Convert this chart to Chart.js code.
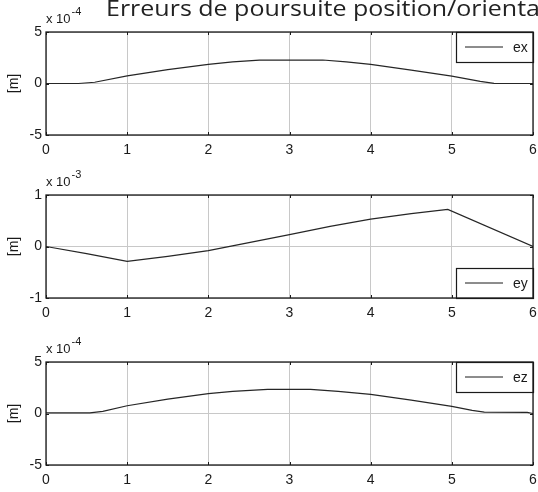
<!DOCTYPE html>
<html>
<head>
<meta charset="utf-8">
<script src="https://cdn.jsdelivr.net/npm/chart.js@4"></script>
<style>
html, body { margin: 0; padding: 0; background: #fff; }
#fig { position: relative; width: 538px; height: 492px; overflow: hidden; }
.pane { position: absolute; left: 0; width: 538px; height: 162px; }
</style>
</head>
<body>
<div id="fig">
	<div class="pane" style="top:0"><canvas id="cx" width="538" height="162"></canvas></div>
	<div class="pane" style="top:163px"><canvas id="cy" width="538" height="162"></canvas></div>
	<div class="pane" style="top:330px"><canvas id="cz" width="538" height="162"></canvas></div>
</div>
<script>
const TITLE = 'Erreurs de poursuite position/orientation';
const X_TICKS = [0, 1, 2, 3, 4, 5, 6];

// ex, units of 1e-4 m
const tEx = [0, 0.4, 0.6, 1.0, 1.5, 2.0, 2.3, 2.63, 3.41, 3.7, 4.0, 4.5, 5.0, 5.35, 5.52, 6.0];
const ex  = [0, 0, 0.12, 0.74, 1.35, 1.85, 2.1, 2.27, 2.28, 2.1, 1.85, 1.3, 0.72, 0.2, 0.02, 0];

// ey, units of 1e-3 m
const tEy = [0, 0.5, 1.0, 1.5, 2.0, 2.5, 3.0, 3.5, 4.0, 4.5, 4.95, 6.0];
const ey  = [0, -0.14, -0.29, -0.19, -0.08, 0.075, 0.23, 0.39, 0.53, 0.64, 0.72, 0];

// ez, units of 1e-4 m
const tEz = [0, 0.54, 0.7, 1.0, 1.5, 2.0, 2.3, 2.73, 3.26, 3.6, 4.0, 4.5, 5.0, 5.25, 5.4, 5.93, 6.0];
const ez  = [0.07, 0.07, 0.2, 0.75, 1.4, 1.93, 2.15, 2.35, 2.35, 2.15, 1.86, 1.3, 0.69, 0.3, 0.13, 0.1, 0];

const FONT = "'Liberation Sans Narrow', 'Liberation Sans', Arial, sans-serif";
const INK = '#1a1a1a';

// MATLAB-like axes decoration: box, inner ticks, exponent, legend, figure title
const axesDeco = {
	id: 'axesDeco',
	afterDraw(chart, args, o) {
		const ctx = chart.ctx;
		const a = chart.chartArea;
		const xs = chart.scales.x, ys = chart.scales.y;
		ctx.save();

		ctx.strokeStyle = INK;
		ctx.lineWidth = 1;
		for(const v of X_TICKS)
		{
			const px = Math.round(xs.getPixelForValue(v)) + 0.5;
			ctx.beginPath();
			ctx.moveTo(px, a.top); ctx.lineTo(px, a.top + 3);
			ctx.moveTo(px, a.bottom); ctx.lineTo(px, a.bottom - 3);
			ctx.stroke();
		}
		for(const v of [-o.lim, 0, o.lim])
		{
			const py = Math.round(ys.getPixelForValue(v)) + 0.5;
			ctx.beginPath();
			ctx.moveTo(a.left, py); ctx.lineTo(a.left + 3, py);
			ctx.moveTo(a.right, py); ctx.lineTo(a.right - 3, py);
			ctx.stroke();
		}

		// legend
		const lw = 77, lh = 30;
		const lx = a.right - lw;
		const ly = o.legendBottom ? a.bottom - lh : a.top;
		ctx.fillStyle = '#fff';
		ctx.fillRect(lx, ly, lw, lh);
		ctx.lineWidth = 1.2;
		ctx.strokeRect(Math.round(lx) + 0.5, Math.round(ly) + 0.5, lw, lh);
		ctx.lineWidth = 1;
		ctx.beginPath();
		ctx.moveTo(lx + 9, ly + lh / 2); ctx.lineTo(lx + 47, ly + lh / 2);
		ctx.stroke();
		ctx.fillStyle = INK;
		ctx.font = '14px ' + FONT;
		ctx.textBaseline = 'middle';
		ctx.textAlign = 'left';
		ctx.fillText(chart.data.datasets[0].label, lx + 57, ly + lh / 2 + 1);

		// box
		ctx.lineWidth = 1.3;
		ctx.strokeRect(a.left, a.top, a.right - a.left, a.bottom - a.top);

		// exponent
		ctx.textBaseline = 'alphabetic';
		ctx.font = '13px ' + FONT;
		ctx.fillText('x 10', a.left, a.top - 9.5);
		const w = ctx.measureText('x 10').width;
		ctx.font = '11px ' + FONT;
		ctx.fillText(o.exp, a.left + w + 1, a.top - 17.5);

		if(o.title)
		{
			ctx.font = "21px 'Open Sans', sans-serif";
			ctx.fillStyle = '#222';
			ctx.translate(106, 16);
			ctx.scale(1.19, 1);
			ctx.fillText(o.title, 0, 0);
		}
		ctx.restore();
	}
};

function makeAxes(id, t, v, label, lim, deco) {
	const points = t.map((x, i) => ({x: x, y: v[i]}));
	return new Chart(document.getElementById(id), {
		type: 'line',
		data: {
			datasets: [{
				label: label,
				data: points,
				borderColor: '#262626',
				borderWidth: 1.2,
				pointRadius: 0,
				tension: 0,
				fill: false,
			}],
		},
		options: {
			responsive: false,
			animation: false,
			devicePixelRatio: 1,
			layout: {padding: {top: 32, right: 5, left: 0, bottom: 0}},
			plugins: {
				legend: {display: false},
				tooltip: {enabled: false},
				axesDeco: Object.assign({lim: lim}, deco),
			},
			scales: {
				x: {
					type: 'linear',
					min: 0, max: 6,
					afterBuildTicks: s => { s.ticks = X_TICKS.map(v => ({value: v})); },
					afterFit: s => { s.height = 27; s.paddingLeft = 0; s.paddingRight = 0; },
					ticks: {color: INK, font: {family: FONT, size: 14}, padding: 7, maxRotation: 0},
					grid: {color: '#c8c8c8', lineWidth: 1, drawTicks: false},
					border: {display: false},
				},
				y: {
					min: -lim, max: lim,
					afterBuildTicks: s => { s.ticks = [-lim, 0, lim].map(v => ({value: v})); },
					afterFit: s => { s.width = 46; },
					ticks: {color: INK, font: {family: FONT, size: 14}, padding: 4},
					grid: {color: '#c8c8c8', lineWidth: 1, drawTicks: false},
					border: {display: false},
					title: {display: true, text: '[m]', color: INK, font: {family: FONT, size: 14}, padding: {top: 6, bottom: 0}},
				},
			},
		},
		plugins: [axesDeco],
	});
}

makeAxes('cx', tEx, ex, 'ex', 5, {exp: '-4', title: TITLE});
makeAxes('cy', tEy, ey, 'ey', 1, {exp: '-3', legendBottom: true});
makeAxes('cz', tEz, ez, 'ez', 5, {exp: '-4'});
</script>
</body>
</html>
